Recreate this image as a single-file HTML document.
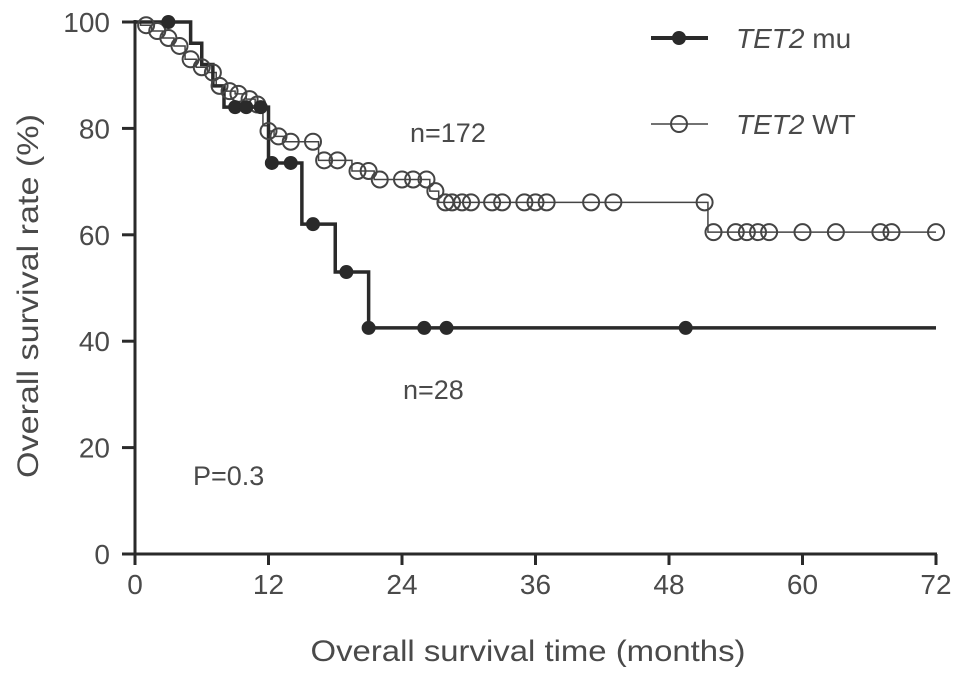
<!DOCTYPE html>
<html><head><meta charset="utf-8"><style>
body{margin:0;background:#fff;}
svg text{font-family:"Liberation Sans",sans-serif;fill:#4a4a4a;}
</style></head><body>
<svg id="chart" width="969" height="679" viewBox="0 0 969 679">
<g id="axes"></g>
<g id="series"></g>
<text x="0" y="0" font-size="30" textLength="364" lengthAdjust="spacingAndGlyphs" transform="translate(38,296) rotate(-90)" text-anchor="middle">Overall survival rate (%)</text>
<text x="528" y="661" font-size="30" textLength="435" lengthAdjust="spacingAndGlyphs" text-anchor="middle">Overall survival time (months)</text>
<text x="410" y="142" font-size="27">n=172</text>
<text x="403" y="399" font-size="27">n=28</text>
<text x="193" y="485" font-size="27">P=0.3</text>
<g>
<line x1="651" y1="38" x2="708" y2="38" stroke="#2a2a2a" stroke-width="4"/>
<circle cx="679" cy="38" r="7" fill="#2a2a2a"/>
<text x="736" y="48" font-size="28"><tspan font-style="italic">TET2</tspan> mu</text>
<line x1="651" y1="124" x2="708" y2="124" stroke="#444" stroke-width="1.5"/>
<circle cx="679" cy="124" r="8" fill="none" stroke="#444" stroke-width="2"/>
<text x="736" y="134" font-size="28"><tspan font-style="italic">TET2</tspan> WT</text>
</g>
</svg>
<script>
const xTicks=[0,12,24,36,48,60,72];
const yTicks=[0,20,40,60,80,100];
const muStepTimes=[0,5,6,7,8,12,15,18,21];
const muStepValues=[100,96,92,88,84,73.5,62,53,42.5];
const muCensorTimes=[3,9,10,11.3,12.3,14,16,19,21,26,28,49.5];
const wtStepTimes=[0,0.5,1.5,2.5,3.5,4.5,5.5,6.5,7.3,8,9,10,10.8,11.5,12,12.5,13.5,16.5,19.5,21.5,26.5,27.3,51.5];
const wtStepValues=[100,99.4,98.3,97,95.5,93,91.5,90.5,88,87,86.5,85.5,84.5,80.5,79.5,78.5,77.5,74,72,70.4,68.2,66.1,60.5];
const wtCensorTimes=[1,2,3,4,5,6,7,7.6,8.5,9.3,10.3,11,12,12.9,14,16,17,18.2,20,21,22,24,25,26.2,27,27.9,28.5,29.4,30.2,32.1,33,35,36,37,41,43,51.2,52,54,55,56,57,60,63,67,68,72];
const NS="http://www.w3.org/2000/svg";
const X=t=>135+t*801/72, Y=v=>554-v*5.32;
function mk(tag,attrs,parent){const e=document.createElementNS(NS,tag);for(const k in attrs)e.setAttribute(k,attrs[k]);parent.appendChild(e);return e;}
const axes=document.getElementById('axes'), ser=document.getElementById('series');
let a=mk('line',{x1:135,y1:554,x2:937,y2:554,stroke:'#2a2a2a','stroke-width':3},axes);


a=mk('line',{x1:135,y1:20,x2:135,y2:555,stroke:'#2a2a2a','stroke-width':3},axes);


xTicks.forEach(t=>{mk('line',{x1:X(t),y1:554,x2:X(t),y2:565,stroke:'#2a2a2a','stroke-width':3},axes);
const tx=mk('text',{x:X(t),y:594,'font-size':28,'text-anchor':'middle'},axes);tx.textContent=t;

});
yTicks.forEach(v=>{mk('line',{x1:122,y1:Y(v),x2:135,y2:Y(v),stroke:'#2a2a2a','stroke-width':3},axes);
const tx=mk('text',{x:110,y:Y(v)+10,'font-size':28,'text-anchor':'end'},axes);tx.textContent=v;

});
function val(ts,vs,t){let v=vs[0];for(let i=0;i<ts.length;i++)if(ts[i]<=t)v=vs[i];return v;}
function path(ts,vs,end){let d='M'+X(0)+' '+Y(vs[0]);for(let i=1;i<ts.length;i++){d+=' H'+X(ts[i])+' V'+Y(vs[i]);}d+=' H'+X(end);return d;}
let p=mk('path',{d:path(wtStepTimes,wtStepValues,72),fill:'none',stroke:'#444','stroke-width':1.5},ser);


p=mk('path',{d:path(muStepTimes,muStepValues,72),fill:'none',stroke:'#2a2a2a','stroke-width':3.5},ser);


wtCensorTimes.forEach(t=>{const c=mk('circle',{cx:X(t),cy:Y(val(wtStepTimes,wtStepValues,t)),r:8,fill:'none',stroke:'#444','stroke-width':2},ser);

});
muCensorTimes.forEach(t=>{const c=mk('circle',{cx:X(t),cy:Y(val(muStepTimes,muStepValues,t)),r:7,fill:'#2a2a2a'},ser);

});
</script>
</body></html>
